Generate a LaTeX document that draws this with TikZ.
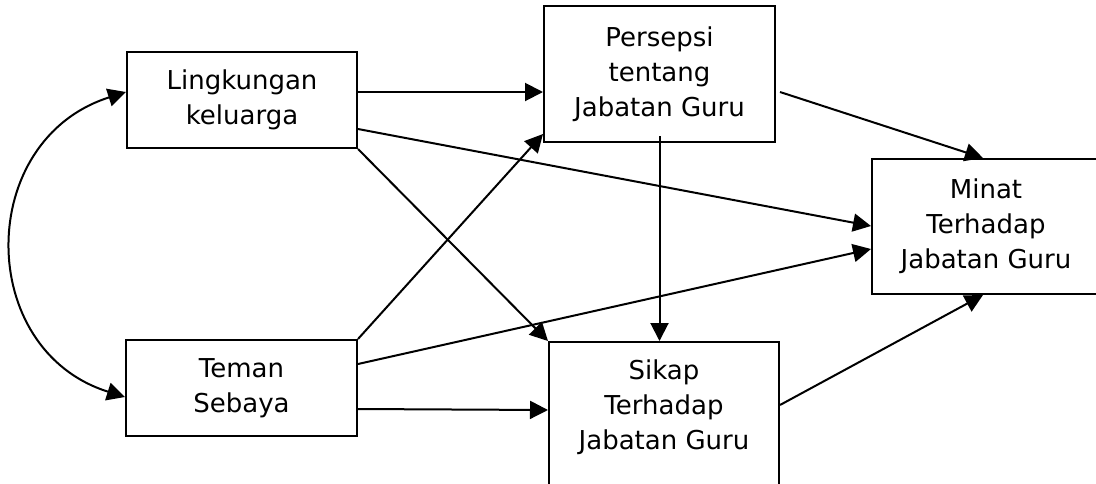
\documentclass[tikz,border=0pt]{standalone}
\usepackage{fontspec}
\setmainfont{DejaVu Sans}
\usetikzlibrary{arrows.meta,calc}
\begin{document}
\begin{tikzpicture}[x=1pt,y=-1pt,
 box/.style={draw,line width=2pt,inner sep=0pt,align=center,font=\fontsize{26}{35}\selectfont},
 lbl/.style={inner sep=0pt,align=center,font=\fontsize{26}{35}\selectfont},
 arr/.style={line width=2pt,-{Triangle[length=18pt,width=18pt]}},
 dbl/.style={line width=2pt,{Triangle[length=18pt,width=18pt]}-{Triangle[length=18pt,width=18pt]}}]
\useasboundingbox (0,0) rectangle (1096,483);
\clip (0,0) rectangle (1096,483);
\node[box,minimum width=230pt,minimum height=96pt] (ling) at (242,100) {Lingkungan\\keluarga};
\node[box,minimum width=231pt,minimum height=96pt] (teman) at (241.5,388) {Teman\\Sebaya};
\node[box,minimum width=231pt,minimum height=136pt] (pers) at (659.5,74) {Persepsi\\tentang\\Jabatan Guru};
\node[box,minimum width=228pt,minimum height=135pt] (minat) at (986,226.5) {Minat\\Terhadap\\Jabatan Guru};
\node[box,minimum width=230pt,minimum height=160pt,anchor=north] (sikap) at (664,341) {};
\node[lbl] (sikapt) at (664,407) {Sikap\\Terhadap\\Jabatan Guru};
\draw[arr] ($(ling.north east)+(0,41)$) -- ($(pers.north west)+(0,87)$);
\draw[arr] ($(ling.north east)+(0,78)$) -- ($(minat.north west)+(0,68)$);
\draw[arr] (ling.south east) -- (sikap.north west);
\draw[arr] (teman.north east) -- ($(pers.south west)+(0,-9)$);
\draw[arr] ($(teman.north east)+(0,25)$) -- ($(minat.north west)+(0,91)$);
\draw[arr] ($(teman.north east)+(0,70)$) -- ($(sikap.north west)+(0,69)$);
\draw[arr] ($(pers.north east)+(4,87)$) -- ($(minat.north)+(-3,0)$);
\coordinate (pv) at ($(pers.south)+(0,-7)$);
\draw[arr] (pv) -- (pv |- sikap.north);
\draw[arr] ($(sikap.north east)+(0,64)$) -- ($(minat.south)+(-3,0)$);
\draw[dbl] ($(ling.north west)+(0,41)$) .. controls (-25,140) and (-25,350) .. ($(teman.north west)+(0,58)$);
\end{tikzpicture}
\end{document}
